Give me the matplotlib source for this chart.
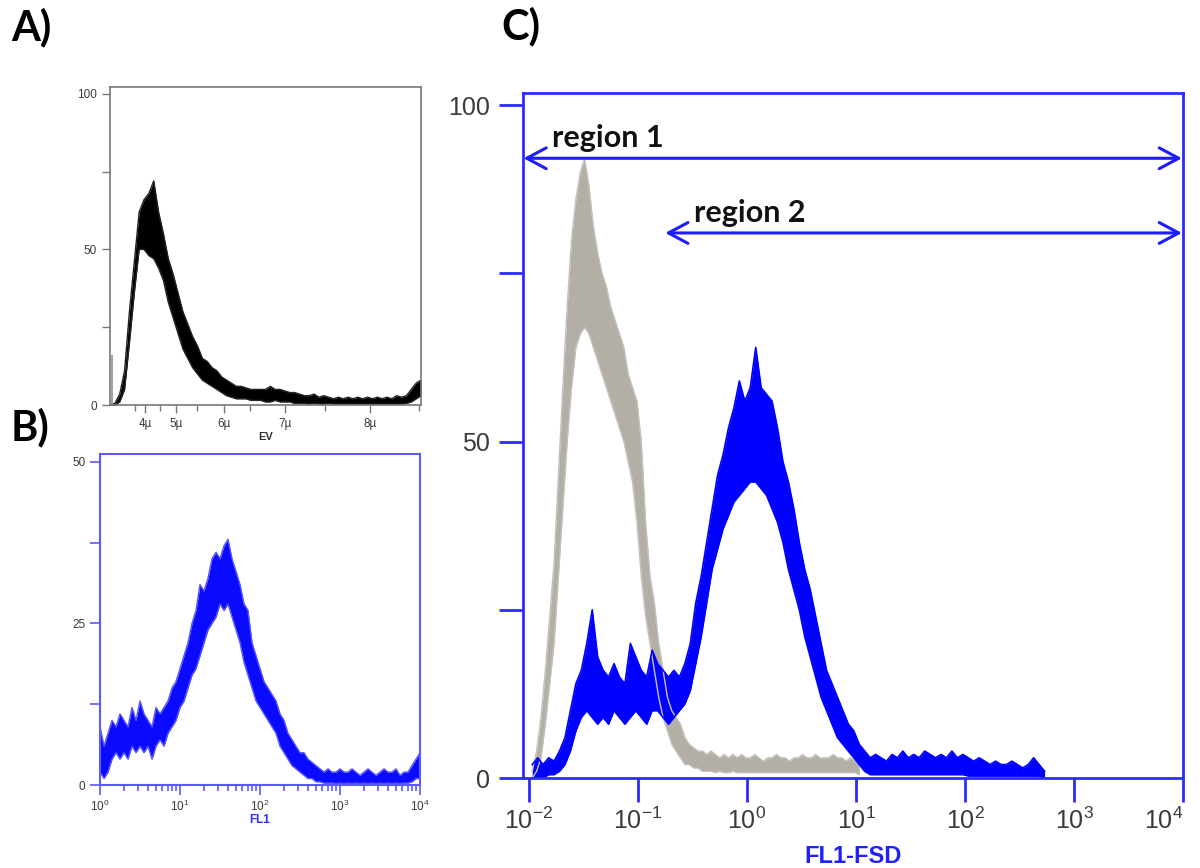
import numpy as np
import matplotlib.pyplot as plt
from matplotlib.ticker import FixedLocator, NullLocator, LogLocator, NullFormatter

plt.rcParams['font.family'] = ['Liberation Sans', 'DejaVu Sans']
plt.rcParams['mathtext.fontset'] = 'custom'
plt.rcParams['mathtext.rm'] = 'Liberation Sans'

# ---- panel A: EV size histogram (channel 0..1024), band low/high
a_channel = np.arange(0, 1025, 16)
a_lo = [0, 0, 1, 5, 20, 36, 50, 50, 48, 47, 44, 40, 33, 28, 23, 18,
        15, 12, 10, 8, 7, 6, 5, 4, 3, 2.5, 2, 2, 2, 1.5, 1.5, 1.5,
        1, 1, 1.5, 1, 1, 1, 0.5, 0.5, 0.5, 0.3, 0.5, 0.3, 0.3, 0.5, 0.3, 0.3,
        0.3, 0.3, 0.2, 0.3, 0.2, 0.3, 0.2, 0.3, 0.2, 0.3, 0.2, 0.3, 0.3, 0.5, 1, 2, 3]
a_hi = [0, 0.5, 3.5, 11, 30, 46, 62, 66, 68, 72, 62, 55, 47, 42, 36, 30,
        26, 22, 19, 15, 14, 12, 11, 9, 8, 7, 6, 6, 5.5, 5, 5, 5,
        5, 6, 5, 5, 4.5, 4, 4, 3.5, 3, 3, 3.5, 2.5, 3, 2.5, 2, 2.5,
        2, 2.5, 2, 2.5, 2, 2.5, 2, 2.5, 2, 2.5, 2, 3, 2.5, 3, 5, 7, 8]
a_edge_spike = (8, 16)           # thin line at the left edge: channel, height
a_tick_pos = [115, 217, 375, 576, 856]
a_tick_lab = ['4\u00b5', '5\u00b5', '6\u00b5', '7\u00b5', '8\u00b5']
a_minor_pos = [82, 165, 286, 461, 708, 1017]

# ---- panel B: FL1 histogram, log10 of FL1
b_log = np.linspace(0, 4, 81)
b_lo = [2, 1, 2, 4, 5, 4, 5, 4, 6, 5, 6, 5, 6, 4, 6, 7, 6, 8, 9, 10,
        12, 13, 15, 17, 18, 20, 22, 24, 25, 26, 28, 27, 28, 26, 24, 22, 19, 17, 15, 13,
        12, 11, 10, 9, 8, 6, 5, 4, 3, 2.5, 2, 1.5, 1, 1, 0.5, 0.5, 0.3, 0.3, 0.3, 0.2,
        0.3, 0.2, 0.3, 0.2, 0.3, 0.2, 0.3, 0.2, 0.3, 0.2, 0.3, 0.2, 0.3, 0.2, 0.3, 0.2,
        0.3, 0.3, 0.5, 1, 1]
b_hi = [9, 6, 8, 10, 9, 11, 10, 9, 12, 10, 13, 11, 10, 9, 12, 11, 12, 13, 15, 16,
        18, 20, 22, 25, 27, 31, 30, 32, 35, 36, 35, 37, 38, 35, 33, 31, 28, 27, 22, 20,
        18, 16, 15, 14, 13, 11, 10, 8, 7, 6, 5, 5, 4, 3.5, 3, 2.5, 2, 2.5, 2, 2,
        2.5, 2, 2, 2.5, 2, 1.5, 2, 2.5, 2, 1.5, 2, 2.5, 2, 2, 2.5, 1.5,
        2, 2, 3, 4, 5]

# ---- panel C: FL1-FSD, grey = control, blue = stained
c_grey_log = np.linspace(-1.97, 1.03, 76)
c_grey_lo = [0, 1, 3, 8, 14, 20, 30, 40, 50, 58, 64, 66, 67, 66, 64, 62, 60, 58, 56, 54,
             52, 50, 47, 44, 38, 30, 24, 20, 16, 12, 9, 7, 5, 4, 3, 2, 2, 1.5, 1.5, 1,
             1, 1, 0.8, 1, 0.8, 0.8, 1, 0.8, 0.8, 0.8, 0.8, 0.8, 0.8, 0.8, 0.8, 0.8, 0.8, 0.8, 0.8, 0.8,
             0.8, 0.8, 0.8, 0.8, 0.8, 0.8, 0.8, 0.8, 0.8, 0.8, 0.8, 0.8, 0.8, 0.8, 0.8, 0.5]
c_grey_hi = [1, 4, 9, 16, 24, 32, 45, 58, 70, 80, 86, 90, 92, 88, 82, 78, 75, 73, 70, 68,
             66, 64, 60, 58, 56, 50, 38, 30, 26, 20, 16, 12, 10, 9, 8, 6, 5, 4.5, 4, 4,
             3.5, 4, 3.5, 3, 3.5, 3, 3.5, 3, 3.5, 3, 3, 3.5, 3, 2.5, 3, 3, 3.5, 3, 3, 2.5,
             3, 3, 3.5, 3, 3, 3.5, 3, 3, 3, 3.5, 3, 3, 2.5, 3, 2.5, 2]
c_blue_log = np.linspace(-1.97, 2.73, 95)
c_blue_lo = [0, 0, 0, 0.5, 0.5, 1, 2, 4, 7, 9, 10, 9, 8, 9, 8, 10, 9, 8, 9, 10,
             9, 8, 10, 10, 9, 8, 9, 10, 11, 13, 17, 21, 26, 31, 34, 37, 39, 41, 42, 43,
             44, 44, 43, 42, 40, 38, 35, 31, 28, 25, 21, 18, 15, 12, 10, 8, 6, 5, 4, 3,
             2, 1, 0.5, 0.5, 0.5, 0.5, 0.5, 0.5, 0.5, 0.5, 0.5, 0.5, 0.5, 0.5, 0.5, 0.5, 0.5, 0.5, 0.5, 0.5,
             0.3, 0.3, 0.3, 0.3, 0.3, 0.3, 0.3, 0.3, 0.3, 0.3, 0.3, 0.3, 0.3, 0.3, 0]
c_blue_hi = [2, 3, 2, 3, 2.5, 4, 6, 10, 14, 16, 20, 25, 18, 16, 15, 17, 15, 14, 20, 18,
             16, 15, 19, 17, 16, 15, 16, 15, 17, 20, 26, 30, 35, 40, 45, 48, 52, 55, 59, 56,
             58, 64, 58, 57, 56, 52, 47, 44, 40, 35, 31, 28, 24, 20, 16, 14, 12, 10, 8, 7,
             5, 4, 3, 3.5, 3, 2.5, 3.5, 3, 4, 3, 3.5, 3, 4, 3.5, 3, 3.5, 3, 4, 3, 3.5,
             3, 2.5, 3, 2.5, 2, 2.5, 2, 2, 2.5, 2, 1.5, 2, 3, 2, 1]
region1 = (-2.05, 3.99, 92.1)    # log10 start, log10 end, height
region2 = (-0.75, 3.99, 81.0)

W, H = 1200, 868
fig = plt.figure(figsize=(W / 100, H / 100), dpi=100)


def px_axes(l, t, r, b):
    return fig.add_axes([l / W, 1 - b / H, (r - l) / W, (b - t) / H])


def band(ax, x, lo, hi, fill, edge, lw=0.8):
    # dense core of the noisy histogram, with a jagged outline
    ax.fill_between(x, lo, hi, color=fill, lw=0)
    ax.plot(x, hi, color=edge, lw=lw)
    ax.plot(x, lo, color=edge, lw=lw)


def style(ax, color, lw, length, width, labsize):
    for s in ax.spines.values():
        s.set_color(color)
        s.set_linewidth(lw)
    ax.tick_params(which='both', direction='out', color=color, width=width,
                   labelsize=labsize, labelcolor='#3a3a3a')
    ax.tick_params(which='major', length=length)


# ---- A
axA = px_axes(110, 87, 421, 405)
band(axA, a_channel, a_lo, a_hi, 'black', '#222222', 1.0)
axA.vlines(a_edge_spike[0], 0, a_edge_spike[1], color='#909090', lw=1.2)
axA.set_xlim(0, 1024)
axA.set_ylim(0, 102.2)
style(axA, '#777777', 1.2, 6, 1.0, 8.5)
axA.set_yticks([0, 25, 50, 75, 100])
axA.set_yticklabels(['0', '', '50', '', '100'])
axA.set_xticks(a_tick_pos)
axA.set_xticklabels(a_tick_lab)
axA.xaxis.set_minor_locator(FixedLocator(a_minor_pos))
axA.tick_params(which='minor', length=4)
axA.tick_params(axis='x', pad=3)
axA.set_xlabel('EV', fontsize=8, fontweight='bold', labelpad=2, color='#333333')

# ---- B
axB = px_axes(100, 454, 420, 785)
band(axB, 10 ** b_log, b_lo, b_hi, '#0a0aff', '#5555ff', 1.0)
axB.set_xscale('log')
axB.set_xlim(1, 1e4)
axB.set_ylim(0, 51.2)
style(axB, '#5a5aff', 1.5, 7, 1.2, 8.5)
axB.set_yticks([0, 12.5, 25, 37.5, 50])
axB.set_yticklabels(['0', '', '25', '', '50'])
axB.xaxis.set_major_locator(FixedLocator([1, 10, 100, 1000, 10000]))
axB.set_xticklabels(['$10^{0}$', '$10^{1}$', '$10^{2}$', '$10^{3}$', '$10^{4}$'])
axB.xaxis.set_minor_locator(LogLocator(base=10, subs=np.arange(2, 10), numticks=20))
axB.xaxis.set_minor_formatter(NullFormatter())
axB.tick_params(which='minor', length=4)
axB.tick_params(axis='x', pad=3)
axB.set_xlabel('FL1', fontsize=8.5, fontweight='bold', color='#3030ff', labelpad=0)

# ---- C
axC = px_axes(523, 93, 1183, 778)
band(axC, 10 ** c_grey_log, c_grey_lo, c_grey_hi, '#b3afa6', '#c4c1ba', 1.0)
band(axC, 10 ** c_blue_log, c_blue_lo, c_blue_hi, '#0000ff', '#0000ff', 1.2)
axC.set_xscale('log')
axC.set_xlim(10 ** -2.055, 1e4)
axC.set_ylim(0, 101.8)
style(axC, '#2b2bff', 2.0, 17, 2.0, 18)
axC.set_yticks([0, 25, 50, 75, 100])
axC.set_yticklabels(['0', '', '50', '', '100'])
axC.tick_params(axis='y', pad=7)
axC.xaxis.set_major_locator(FixedLocator([1e-2, 1e-1, 1, 10, 100, 1000, 10000]))
c_xlabels = axC.set_xticklabels(['$10^{-2}$', '$10^{-1}$', '$10^{0}$', '$10^{1}$',
                                 '$10^{2}$', '$10^{3}$', '$10^{4}$'])
c_xlabels[-1].set_horizontalalignment('right')
axC.xaxis.set_minor_locator(NullLocator())
axC.tick_params(axis='x', pad=4)
axC.set_xlabel('FL1-FSD', fontsize=17, fontweight='bold', color='#2020ff', labelpad=8)

for (x0, x1, yv), name in [(region1, 'region 1'), (region2, 'region 2')]:
    axC.annotate('', xy=(10 ** x1, yv), xytext=(10 ** x0, yv),
                 arrowprops=dict(arrowstyle='<->,head_length=1.4,head_width=0.75',
                                 color='#1c1cff', lw=2.2, shrinkA=0, shrinkB=0))
    axC.text(10 ** (x0 + 0.26), yv + 0.9, name, fontsize=22, fontweight='bold',
             family=['Lato', 'DejaVu Sans'], color='#111111', va='bottom', ha='left')

# panel letters
for lab, x, y in [('A)', 11, 27), ('B)', 11, 427), ('C)', 501, 26)]:
    fig.text(x / W, 1 - y / H, lab, fontsize=30, fontweight='bold',
             family=['Lato', 'DejaVu Sans'], va='center', ha='left')

fig.savefig('out.png', dpi=100)
